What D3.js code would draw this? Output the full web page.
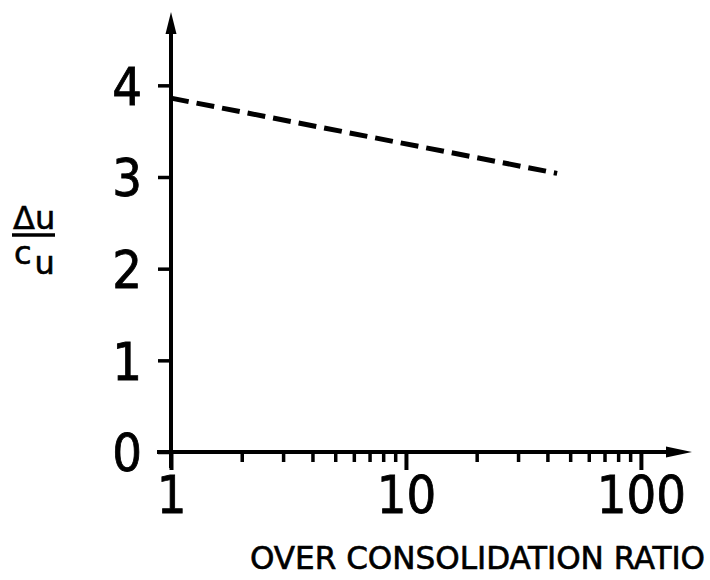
<!DOCTYPE html>
<html>
<head>
<meta charset="utf-8">
<script src="https://cdn.jsdelivr.net/npm/d3@7"></script>
<style>
  body { margin: 0; background: #fff; }
  svg { display: block; }
  .axis text { font-family: "DejaVu Sans Condensed", "DejaVu Sans", sans-serif; fill: #000; stroke: #000; stroke-width: 0.8px; }
</style>
</head>
<body>
<svg id="chart" width="710" height="580"></svg>
<script>
// data
const ocr = [1, 44];           // over consolidation ratio
const duCu = [3.86, 3.04];     // delta u / c_u
const yTicks = [0, 1, 2, 3, 4];
const xMajor = [1, 10, 100];
const xMinor = [2, 3, 4, 5, 6, 7, 8, 9, 20, 30, 40, 50, 60, 70, 80, 90];

const svg = d3.select('#chart');

// axes run past the last tick and end in arrow heads
const x = d3.scaleLog().domain([1, 165]).range([171, 692]);
const y = d3.scaleLinear().domain([0, 4.8]).range([452, 12]);

const ink = '#000';
const axisW = 4;

// y axis line + arrow
svg.append('line')
  .attr('x1', x(1)).attr('x2', x(1))
  .attr('y1', y(0) + 16).attr('y2', y(4.8) + 18)
  .attr('stroke', ink).attr('stroke-width', axisW);
svg.append('path')
  .attr('d', `M${x(1)},${y(4.8)} L${x(1) - 5.5},${y(4.8) + 22} L${x(1) + 5.5},${y(4.8) + 22} Z`)
  .attr('fill', ink);

// x axis line + arrow
svg.append('line')
  .attr('x1', x(1) - 14).attr('x2', x(165) - 20)
  .attr('y1', y(0)).attr('y2', y(0))
  .attr('stroke', ink).attr('stroke-width', axisW);
svg.append('path')
  .attr('d', `M${x(165)},${y(0)} L${x(165) - 26},${y(0) - 5.5} L${x(165) - 26},${y(0) + 5.5} Z`)
  .attr('fill', ink);

// y ticks
const yAxis = svg.append('g')
  .attr('class', 'axis')
  .attr('transform', `translate(${x(1)},0)`)
  .call(d3.axisLeft(y).tickValues(yTicks).tickSize(13).tickPadding(16).tickFormat(d3.format('d')));
yAxis.select('.domain').remove();
yAxis.selectAll('.tick line').attr('stroke', ink).attr('stroke-width', 3.5);
yAxis.selectAll('.tick text').style('font-size', '52px').attr('dy', '0.36em');

// x minor ticks
const xMinAxis = svg.append('g')
  .attr('class', 'axis')
  .attr('transform', `translate(0,${y(0)})`)
  .call(d3.axisBottom(x).tickValues(xMinor).tickSize(10).tickFormat(''));
xMinAxis.select('.domain').remove();
xMinAxis.selectAll('.tick line').attr('stroke', ink).attr('stroke-width', 3.5);

// x major ticks
const xAxis = svg.append('g')
  .attr('class', 'axis')
  .attr('transform', `translate(0,${y(0)})`)
  .call(d3.axisBottom(x).tickValues(xMajor).tickSize(18).tickPadding(8).tickFormat(d3.format('d')));
xAxis.select('.domain').remove();
xAxis.selectAll('.tick line').attr('stroke', ink).attr('stroke-width', 4);
xAxis.selectAll('.tick text').style('font-size', '52px').attr('dy', '0.68em');

// dashed relation
const line = d3.line()
  .x((d, i) => x(ocr[i]))
  .y((d) => y(d));
svg.append('path')
  .attr('d', line(duCu))
  .attr('fill', 'none')
  .attr('stroke', ink)
  .attr('stroke-width', 5)
  .attr('stroke-dasharray', '18,8');

// axis titles
svg.append('text')
  .attr('x', 705).attr('y', 569)
  .attr('text-anchor', 'end')
  .style('font-family', '"DejaVu Sans Condensed", "DejaVu Sans", sans-serif')
  .style('font-size', '32px')
  .style('stroke', ink).style('stroke-width', '0.6px')
  .attr('textLength', 455)
  .attr('lengthAdjust', 'spacingAndGlyphs')
  .text('OVER CONSOLIDATION RATIO');

const yl = svg.append('g')
  .style('font-family', '"DejaVu Sans", sans-serif')
  .style('stroke', ink).style('stroke-width', '0.6px');
yl.append('text').attr('x', 13).attr('y', 229).style('font-size', '32px').text('Δu');
yl.append('line').attr('x1', 12).attr('x2', 55).attr('y1', 235).attr('y2', 235)
  .attr('stroke', ink).attr('stroke-width', 3.5);
const cu = yl.append('text').attr('x', 14).attr('y', 264).style('font-size', '32px');
cu.append('tspan').text('c');
cu.append('tspan').attr('dx', 3).attr('dy', 10).text('u');
</script>
</body>
</html>
